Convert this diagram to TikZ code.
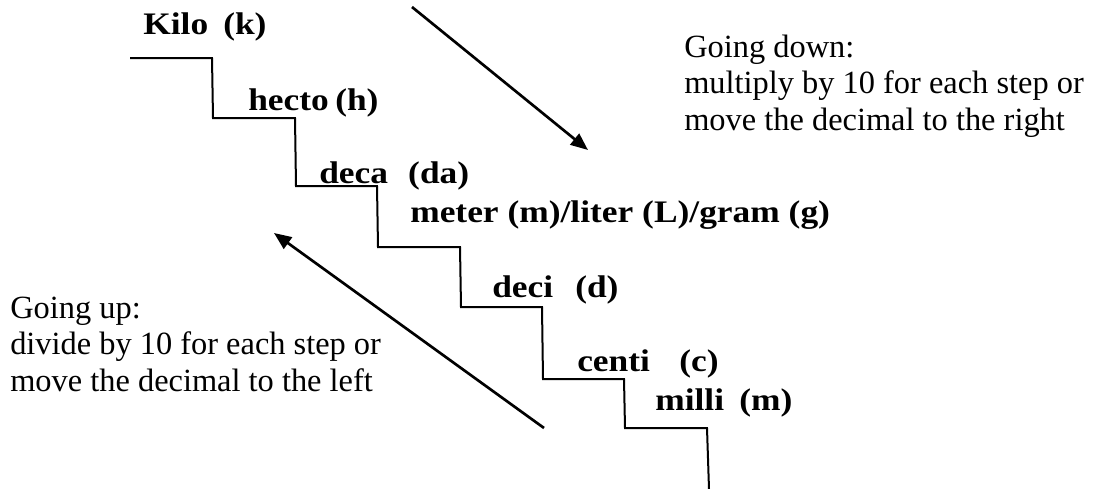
\documentclass[tikz,border=0pt]{standalone}
\usepackage{fontspec}
\setmainfont{Liberation Serif}
\newfontfamily\lblfont[FakeStretch=1.13]{Liberation Serif}
\usetikzlibrary{arrows.meta}
\newcommand\stepl[3]{\makebox[#1pt][l]{#2}#3}
\begin{document}
\begin{tikzpicture}[x=0.75pt,y=-0.75pt,
  lbl/.style={anchor=base west, inner sep=0pt, font=\lblfont\fontsize{23.5}{27.5}\selectfont\bfseries},
  note/.style={anchor=base west, inner sep=0pt, font=\fontsize{24.3}{27.5}\selectfont},
  stair/.style={line width=1.5pt, line join=miter},
  arr/.style={line width=2pt, -{Triangle[length=13pt,width=10.5pt]}}]
\useasboundingbox (0,0) rectangle (1111,489);

% staircase
\draw[stair] (130,58) -- (212,58) -- (213,118) -- (295,118) -- (296,186)
  -- (377,186) -- (378,247) -- (460,247) -- (461,307) -- (542,307)
  -- (543,379) -- (624,379) -- (625,428) -- (707,428) -- (709,489);

% step labels
\node[lbl] (kilo)  at (143,34)  {\stepl{60}{Kilo}{(k)}};
\node[lbl] (hecto) at (248,110) {\stepl{65.25}{hecto}{(h)}};
\node[lbl] (deca)  at (319,183) {\stepl{66.75}{deca}{(da)}};
\node[lbl] (base)  at (410,222) {meter (m)/liter (L)/gram (g)};
\node[lbl] (deci)  at (492,297) {\stepl{62.25}{deci}{(d)}};
\node[lbl] (centi) at (577,371) {\stepl{76.5}{centi}{(c)}};
\node[lbl] (milli) at (655,410) {\stepl{63}{milli}{(m)}};

% notes
\node[note] (down) at (684,57) {\begin{tabular}[t]{@{}l@{}}Going down:\\
  multiply by 10 for each step or\\ move the decimal to the right\end{tabular}};
\node[note] (up) at (10,318) {\begin{tabular}[t]{@{}l@{}}Going up:\\
  divide by 10 for each step or\\ move the decimal to the left\end{tabular}};

% arrows
\coordinate (d1) at (412,7);
\coordinate (d2) at (588,150);
\coordinate (u1) at (544,428);
\coordinate (u2) at (274,233);
\draw[arr] (d1) -- (d2);
\draw[arr] (u1) -- (u2);
\end{tikzpicture}
\end{document}
